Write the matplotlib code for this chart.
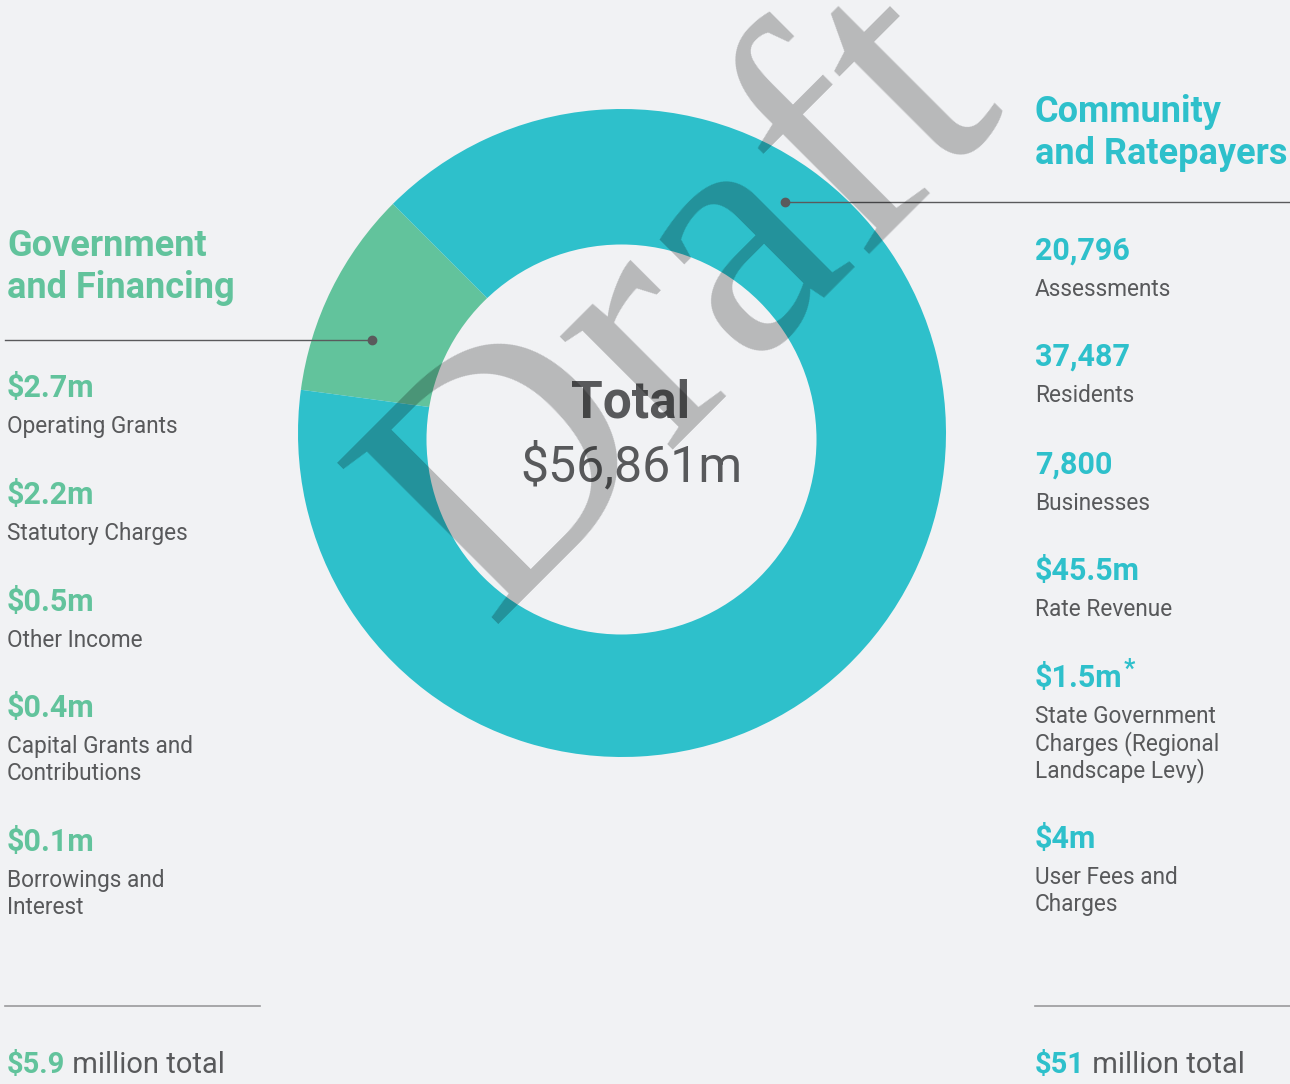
#!/usr/bin/env python3
"""Revenue sources donut: Government and Financing vs Community and Ratepayers."""
import matplotlib
matplotlib.use("Agg")
import matplotlib.pyplot as plt
from matplotlib.patches import Circle

plt.rcParams.update({"font.family": ["Roboto", "DejaVu Sans"]})

BG = "#F1F2F4"
TEAL, GREEN = "#2EC0CB", "#62C39C"
GREY_TXT, LINE = "#58595B", "#5A5A5C"

# slices (million $)
segment_names = ["Government\nand Financing", "Community\nand Ratepayers"]
segment_totals = [5.9, 51.0]
segment_total_labels = ["$5.9", "$51"]
grand_total = "$56,861m"

gov_values = ["$2.7m", "$2.2m", "$0.5m", "$0.4m", "$0.1m"]
gov_labels = ["Operating Grants", "Statutory Charges", "Other Income",
              "Capital Grants and\nContributions", "Borrowings and\nInterest"]

comm_values = ["20,796", "37,487", "7,800", "$45.5m", "$1.5m", "$4m"]
comm_labels = ["Assessments", "Residents", "Businesses", "Rate Revenue",
               "State Government\nCharges (Regional\nLandscape Levy)",
               "User Fees and\nCharges"]

W, H = 1290, 1084
fig = plt.figure(figsize=(W / 100, H / 100), dpi=100, facecolor=BG)
ax = fig.add_axes([0, 0, 1, 1])
ax.set_facecolor(BG)

# y axis inverted -> draw clockwise in data to get counter-clockwise on screen
ax.pie(segment_totals, colors=[GREEN, TEAL], radius=324, center=(622, 433),
       startangle=-135, counterclock=False,
       wedgeprops=dict(edgecolor="none", linewidth=0))
ax.add_patch(Circle((621.5, 439.5), 195, facecolor=BG, edgecolor="none", zorder=2))
ax.set_xlim(0, W)
ax.set_ylim(H, 0)
ax.set_aspect("equal")
ax.axis("off")

# centre label
ax.text(631, 417, "Total", ha="center", va="baseline", fontsize=37,
        fontweight="bold", color=GREY_TXT, zorder=3)
ax.text(631, 481, grand_total, ha="center", va="baseline", fontsize=36,
        color=GREY_TXT, zorder=3)

# headings
for (x, y0), name, col in zip([(7, 256), (1035, 122)], segment_names, [GREEN, TEAL]):
    for i, line in enumerate(name.split("\n")):
        ax.text(x, y0 + 42 * i, line, fontsize=26, fontweight="bold",
                color=col, va="baseline")

# leader lines
ax.plot([5, 372], [340, 340], color=LINE, lw=1, zorder=3)
ax.plot([372], [340], "o", color=LINE, ms=6, zorder=3)
ax.plot([785, W], [202, 202], color=LINE, lw=1, zorder=3)
ax.plot([785], [202], "o", color=LINE, ms=6, zorder=3)
ax.plot([5, 260], [1006, 1006], color="#9A9A9C", lw=1.2)
ax.plot([1035, W], [1006, 1006], color="#9A9A9C", lw=1.2)


def item_list(x, baselines, values, labels, col):
    out = []
    for yb, v, lab in zip(baselines, values, labels):
        t = ax.text(x, yb, v, fontsize=22, fontweight="bold", color=col, va="baseline")
        out.append(t)
        for i, line in enumerate(lab.split("\n")):
            ax.text(x, yb + 36 + 27 * i, line, fontsize=16.3, color=GREY_TXT,
                    va="baseline")
    return out


item_list(7, [397, 504, 611, 717, 851], gov_values, gov_labels, GREEN)
ct = item_list(1035, [260, 366, 474, 580, 687, 848], comm_values, comm_labels, TEAL)
ax.annotate("*", xy=(1, 1), xycoords=ct[4], xytext=(1, 5), textcoords="offset pixels",
            fontsize=18, fontweight="bold", color=TEAL, va="top", ha="left")

# bottom totals
for x, lab, col in zip([7, 1035], segment_total_labels, [GREEN, TEAL]):
    t = ax.text(x, 1073, lab, fontsize=21, fontweight="bold", color=col, va="baseline")
    ax.annotate(" million total", xy=(1, 0), xycoords=t, va="bottom", ha="left",
                fontsize=21, color=GREY_TXT)

# watermark
ax.text(688, 305, "Draft", fontsize=250, family="Liberation Serif", color="black",
        alpha=0.24, rotation=45, rotation_mode="anchor", ha="center", va="center",
        zorder=5)

fig.savefig("out.png", dpi=100, facecolor=BG)
